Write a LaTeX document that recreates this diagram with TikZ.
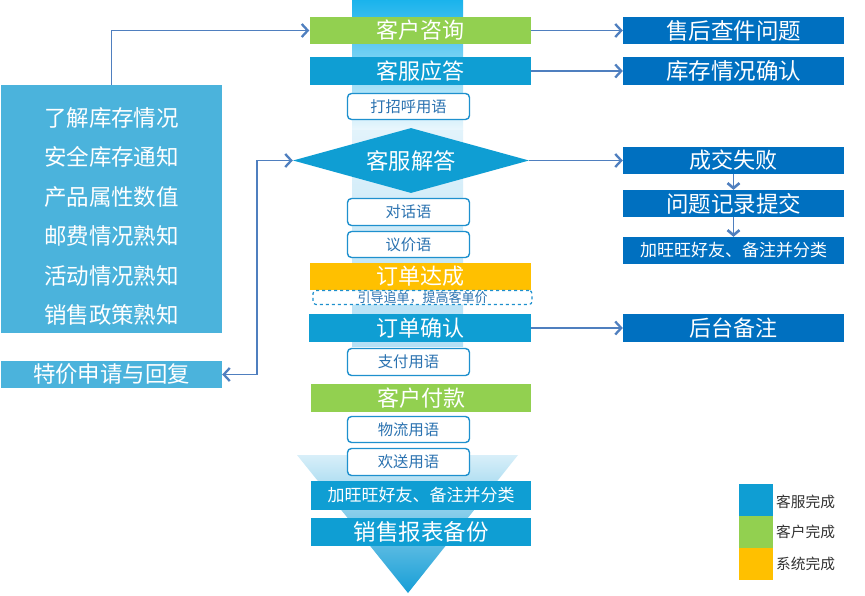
\documentclass[tikz,border=0pt]{standalone}
\usepackage{fontspec}
\newfontfamily\cjk{Noto Sans CJK SC}
\usetikzlibrary{shapes.geometric,arrows.meta}
\definecolor{cblue}{HTML}{0F9ED3}
\definecolor{cgreen}{HTML}{92D050}
\definecolor{cyellow}{HTML}{FFC000}
\definecolor{dblue}{HTML}{0070C0}
\definecolor{lblue}{HTML}{4BB3DC}
\definecolor{arrc}{HTML}{4F7FBF}
\definecolor{pillline}{HTML}{1E90CE}
\definecolor{pilltext}{HTML}{2A72B0}
\begin{document}
\begin{tikzpicture}[x=1pt,y=-1pt,
  blk/.style={rectangle, inner sep=0pt, minimum width=221pt, minimum height=27pt, text=white, font=\cjk\fontsize{22}{22}\selectfont},
  pill/.style={rectangle, rounded corners=4pt, draw=pillline, line width=1.4pt, fill=white, inner sep=0pt, minimum width=122pt, minimum height=26pt, text=pilltext, font=\cjk\fontsize{15.3}{15.3}\selectfont},
  arr/.style={draw=arrc, line width=1.4pt, -{Straight Barb[length=6pt,width=13pt,line width=2.3pt]}},
  darr/.style={draw=arrc, line width=1.4pt, {Straight Barb[length=6pt,width=13pt,line width=2.3pt]}-{Straight Barb[length=6pt,width=13pt,line width=2.3pt]}},
  sarr/.style={draw=arrc, line width=1.6pt, -{Straight Barb[length=5pt,width=12pt,line width=2.6pt]}},
  legtext/.style={anchor=west, inner sep=0pt, text=black!80, font=\cjk\fontsize{14.7}{14.7}\selectfont}
]
\useasboundingbox (0,0) rectangle (865,595);
\fill[white] (0,0) rectangle (865,595);

% background band and funnel
\shade[top color={rgb,255:red,26;green,179;blue,236}, bottom color={rgb,255:red,234;green,247;blue,253}] (352,0) rectangle (463,130);
\shade[top color={rgb,255:red,226;green,243;blue,251}, bottom color={rgb,255:red,180;green,224;blue,245}] (352,130) rectangle (463,346);
\shade[top color={rgb,255:red,216;green,239;blue,249}, bottom color={rgb,255:red,22;green,158;blue,214}] (297,455) -- (518,455) -- (408,593) -- cycle;

% centre column
\node[blk, fill=cgreen] (ask) at (420,30.5) {客户咨询};
\node[blk, fill=cblue, minimum height=28pt] (reply) at (420,71) {客服应答};
\node[pill] (greet) at (408.5,106.5) {打招呼用语};
\node[diamond, aspect=3.63, fill=cblue, inner sep=0pt, minimum width=236pt, minimum height=65pt, text=white, font=\cjk\fontsize{22.3}{22.3}\selectfont] (answer) at (411,160.5) {客服解答};
\node[pill, minimum height=27pt] (talk) at (408.5,212) {对话语};
\node[pill] (bargain) at (408.5,244.5) {议价语};
\node[blk, fill=cyellow] (deal) at (420.5,276.5) {订单达成};
\node[rectangle, rounded corners=3pt, draw=pillline, dashed, line width=1.2pt, fill=white, inner sep=0pt, minimum width=219pt, minimum height=14pt, text=pilltext, font=\cjk\fontsize{13}{13}\selectfont] (upsell) at (422.5,297.5) {引导追单，提高客单价};
\node[blk, fill=cblue, minimum width=222pt, minimum height=28pt] (confirm) at (420,328) {订单确认};
\node[pill, minimum height=27pt] (pay) at (408.5,362) {支付用语};
\node[blk, fill=cgreen, minimum width=220pt, minimum height=28pt] (paid) at (421,398) {客户付款};
\node[pill] (logi) at (408.5,429.5) {物流用语};
\node[pill, minimum height=27pt] (bye) at (408.5,462) {欢送用语};
\node[blk, fill=cblue, minimum width=220pt, minimum height=29pt, font=\cjk\fontsize{17}{17}\selectfont] (addc) at (421,495.5) {加旺旺好友、备注并分类};
\node[blk, fill=cblue, minimum width=220pt, minimum height=28pt, font=\cjk\fontsize{22.5}{22.5}\selectfont] (report) at (421,532) {销售报表备份};

% right column
\node[blk, fill=dblue, font=\cjk\fontsize{22.5}{22.5}\selectfont] (r1) at (733.5,30.5) {售后查件问题};
\node[blk, fill=dblue, minimum height=28pt, font=\cjk\fontsize{22.5}{22.5}\selectfont] (r2) at (733.5,71) {库存情况确认};
\node[blk, fill=dblue] (r3) at (733.5,160.5) {成交失败};
\node[blk, fill=dblue, font=\cjk\fontsize{22.5}{22.5}\selectfont] (r4) at (733.5,203.5) {问题记录提交};
\node[blk, fill=dblue, font=\cjk\fontsize{17}{17}\selectfont] (r5) at (733.5,250.5) {加旺旺好友、备注并分类};
\node[blk, fill=dblue, minimum height=28pt] (r6) at (733.5,328) {后台备注};

% left column
\node[rectangle, fill=lblue, inner sep=0pt, minimum width=221pt, minimum height=248pt] (info) at (111.5,209) {};
\node[align=center, inner sep=0pt, text=white, font=\cjk\fontsize{22.5}{39.4}\selectfont] (infotext) at (111.5,216.5) {了解库存情况\\安全库存通知\\产品属性数值\\邮费情况熟知\\活动情况熟知\\销售政策熟知};
\node[blk, fill=lblue, font=\cjk\fontsize{22.4}{22.4}\selectfont] (special) at (111.5,374.5) {特价申请与回复};

% connectors
\draw[arr] (info.north) |- (ask.west);
\coordinate (jog) at (257,374.5);
\draw[darr] (special.east) -- (jog) |- (answer.west);
\draw[arr] (ask.east) -- (r1.west);
\draw[arr] (reply.east) -- (r2.west);
\draw[arr] (answer.east) -- (r3.west);
\draw[arr] (confirm.east) -- (r6.west);
\draw[sarr] (r3.south) -- (r4.north);
\draw[sarr] (r4.south) -- (r5.north);

% legend
\node[rectangle, fill=cblue, inner sep=0pt, minimum width=34pt, minimum height=32pt] (lg1) at (756,500) {};
\node[rectangle, fill=cgreen, inner sep=0pt, minimum width=34pt, minimum height=32pt] (lg2) at (756,532) {};
\node[rectangle, fill=cyellow, inner sep=0pt, minimum width=34pt, minimum height=32pt] (lg3) at (756,564) {};
\node[legtext] (lt1) at (776,502) {客服完成};
\node[legtext] (lt2) at (776,532) {客户完成};
\node[legtext] (lt3) at (776,564) {系统完成};
\end{tikzpicture}
\end{document}
